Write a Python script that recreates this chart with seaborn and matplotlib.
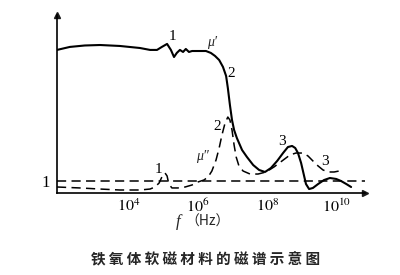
import numpy as np
import pandas as pd
import matplotlib
matplotlib.use("Agg")
import matplotlib.pyplot as plt
import seaborn as sns

# ---- data ----
# log10 of frequency (Hz) and relative permeability (arbitrary units, 1 = unity line)
mu1_logf = [1.94, 2.31, 2.74, 3.18, 3.75, 4.33, 4.62, 4.82, 4.96, 5.11, 5.22, 5.31,
            5.39, 5.48, 5.57, 5.65, 5.74, 5.83, 6.06, 6.23, 6.37, 6.49, 6.61, 6.72,
            6.81, 6.86, 6.92, 6.98, 7.04, 7.12, 7.27, 7.41, 7.59, 7.76, 7.93, 8.10,
            8.28, 8.45, 8.59, 8.71, 8.80, 8.88, 8.97, 9.05, 9.11, 9.20, 9.31, 9.46,
            9.63, 9.80, 9.98, 10.12, 10.27, 10.41]
mu1_val = [11.92, 12.17, 12.29, 12.33, 12.25, 12.08, 11.92, 11.92, 12.17, 12.42, 11.92, 11.33,
           11.67, 11.92, 11.75, 12.0, 11.75, 11.83, 11.83, 11.83, 11.67, 11.42, 11.08, 10.5,
           9.75, 8.75, 7.33, 6.08, 5.25, 4.58, 3.58, 3.0, 2.33, 1.92, 1.75, 2.08,
           2.67, 3.33, 3.83, 3.92, 3.75, 3.33, 2.5, 1.5, 0.75, 0.33, 0.42, 0.75,
           1.08, 1.25, 1.17, 1.0, 0.75, 0.5]

mu2_logf = [1.94, 2.60, 3.18, 3.75, 4.33, 4.62, 4.76, 4.88, 4.96, 5.05, 5.11, 5.16,
            5.25, 5.42, 5.63, 5.83, 6.00, 6.17, 6.29, 6.40, 6.52, 6.61, 6.69, 6.78,
            6.86, 6.92, 6.98, 7.04, 7.10, 7.18, 7.30, 7.50, 7.73, 7.96, 8.19, 8.42,
            8.65, 8.82, 9.03, 9.17, 9.31, 9.46, 9.60, 9.75, 9.92, 10.06, 10.18]
mu2_val = [0.5, 0.42, 0.33, 0.25, 0.25, 0.33, 0.5, 0.83, 1.33, 1.67, 1.42, 0.75,
           0.42, 0.42, 0.5, 0.67, 0.92, 1.08, 1.33, 1.83, 2.75, 3.75, 4.83, 5.83,
           6.33, 6.08, 5.25, 4.0, 3.0, 2.25, 1.83, 1.58, 1.58, 1.75, 2.17, 2.67,
           3.17, 3.33, 3.33, 3.08, 2.67, 2.25, 1.92, 1.75, 1.75, 1.83, 1.83]

unity_level = 1.0
tick_exponents = [4, 6, 8, 10]
tick_labels = [r"$10^{4}$", r"$10^{6}$", r"$10^{8}$", r"$10^{10}$"]

xlabel_text = "（Hz）"
title_text = " ".join("铁氧体软磁材料的磁谱示意图")

df1 = pd.DataFrame({"f": np.power(10.0, mu1_logf), "mu": mu1_val})
df2 = pd.DataFrame({"f": np.power(10.0, mu2_logf), "mu": mu2_val})

# ---- style ----
sns.set_theme(style="white")
plt.rcParams["font.family"] = ["Liberation Serif", "DejaVu Serif"]
plt.rcParams["mathtext.fontset"] = "stix"

fig = plt.figure(figsize=(4.0, 2.75), dpi=100)
fig.patch.set_facecolor("white")
ax = fig.add_axes([57 / 400, 1 - 193 / 275, (365 - 57) / 400, (193 - 15) / 275])
ax.set_facecolor("white")

sns.lineplot(data=df1, x="f", y="mu", ax=ax, color="black", linewidth=1.5,
             estimator=None, sort=False)
sns.lineplot(data=df2, x="f", y="mu", ax=ax, color="black", linewidth=1.1,
             linestyle=(0, (6, 3.5)), estimator=None, sort=False)
ax.axhline(unity_level, color="black", linewidth=1.1, linestyle=(0, (6, 3.5)))

ax.set_xscale("log")
ax.set_xlim(10 ** 1.94, 10 ** 10.81)
ax.set_ylim(0, 14.83)

ax.set_xticks([10.0 ** e for e in tick_exponents])
ax.set_xticklabels(tick_labels, fontsize=11.5)
ax.xaxis.set_minor_locator(matplotlib.ticker.NullLocator())
ax.tick_params(axis="x", direction="in", length=3, width=1, colors="black", pad=4)
ax.set_yticks([unity_level])
ax.set_yticklabels(["1"], fontsize=12)
ax.tick_params(axis="y", length=0, pad=5, colors="black")

for s in ["top", "right"]:
    ax.spines[s].set_visible(False)
for s in ["left", "bottom"]:
    ax.spines[s].set_color("black")
    ax.spines[s].set_linewidth(1.2)

ax.plot(1, 0, ">k", transform=ax.transAxes, clip_on=False, markersize=4)
ax.plot(0, 1, "^k", transform=ax.transAxes, clip_on=False, markersize=4)

ax.set_xlabel("")
ax.set_ylabel("")

lab = dict(fontsize=11, color="black", ha="center", va="center")
ax.text(10 ** 5.28, 13.08, "1", **lab)
ax.text(10 ** 6.40, 12.55, "μ′", fontsize=10, style="italic", ha="center", va="center")
ax.text(10 ** 6.95, 9.95, "2", **lab)
ax.text(10 ** 6.55, 5.55, "2", **lab)
ax.text(10 ** 6.12, 3.05, "μ″", fontsize=10, style="italic", ha="center", va="center")
ax.text(10 ** 4.85, 1.95, "1", **lab)
ax.text(10 ** 8.42, 4.3, "3", **lab)
ax.text(10 ** 9.66, 2.6, "3", **lab)

fig.text(178 / 400, 1 - 222 / 275, "f", fontsize=12, style="italic",
         ha="center", va="center")
fig.text(208 / 400, 1 - 222 / 275, xlabel_text, fontsize=10,
         family=["Noto Sans CJK SC", "DejaVu Sans"], ha="center", va="center")
fig.text(206 / 400, 1 - 259 / 275, title_text, fontsize=10.5, fontweight="bold",
         family=["Noto Sans CJK SC", "DejaVu Sans"], ha="center", va="center")

fig.savefig("out.png", dpi=100, facecolor="white")
